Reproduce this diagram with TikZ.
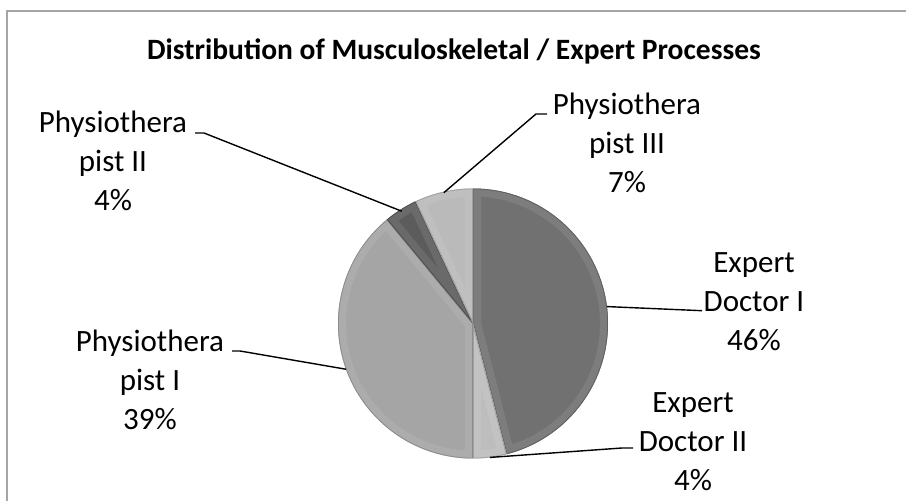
\documentclass[tikz,border=0pt]{standalone}
\usepackage{fontspec}
\setmainfont{Carlito}
\definecolor{edI}{HTML}{717171}
\definecolor{edII}{HTML}{BDBDBD}
\definecolor{phI}{HTML}{A5A5A5}
\definecolor{phII}{HTML}{5C5C5C}
\definecolor{phIII}{HTML}{BABABA}
\definecolor{framegray}{HTML}{A6A6A6}
\newcommand\mypieslice[3]{%
  \begin{scope}
    \clip (c) -- ([shift={(#1:135)}]c) arc[start angle=#1,end angle=#2,radius=135] -- cycle;
    \fill[#3] (c) circle[radius=137];
    \draw[line width=16, #3!75!white, opacity=.35] (c) -- ([shift={(#1:135)}]c) arc[start angle=#1,end angle=#2,radius=135] -- cycle;
    \draw[line width=1.6, #3!85!black] (c) -- ([shift={(#1:135)}]c) arc[start angle=#1,end angle=#2,radius=135] -- cycle;
  \end{scope}}
\newcommand\mylab[1]{\begin{tabular}[t]{@{}c@{}}#1\end{tabular}}
\tikzset{
  lbl/.style={anchor=base, inner sep=0pt, text=black, font=\fontsize{31}{38.8}\selectfont},
  ttl/.style={anchor=base, inner sep=0pt, text=black, font=\bfseries\fontsize{29.5}{35}\selectfont},
  leader/.style={draw=black, line width=1.4pt},
  frameline/.style={draw=framegray, line width=2pt}
}
\begin{document}
\begin{tikzpicture}[x=1pt,y=1pt]
\useasboundingbox (0,0) rectangle (906,501);
\fill[white] (0,0) rectangle (906,501);
\draw[frameline] (7,-2) -- (7,490) -- (908,490);
\node[ttl] (title) at (454,441) {Distribution of Musculoskeletal / Expert Processes};
\coordinate (c) at (473,177.5);
\mypieslice{90}{-75.6}{edI}
\mypieslice{-75.6}{-90}{edII}
\mypieslice{-90}{-230.4}{phI}
\mypieslice{-230.4}{-244.8}{phII}
\mypieslice{-244.8}{-270}{phIII}
% edge points
\coordinate (eEDI) at ([shift={(7.2:135)}]c);
\coordinate (eEDII) at ([shift={(-82.8:135)}]c);
\coordinate (ePI) at ([shift={(199.8:135)}]c);
\coordinate (ePII) at ([shift={(122.4:133)}]c);
\coordinate (ePIII) at ([shift={(102.6:134)}]c);
% labels
\node[lbl] (lPII) at (113,368) {\mylab{Physiothera\\pist II\\4\%}};
\node[lbl] (lPIII) at (627,386) {\mylab{Physiothera\\pist III\\7\%}};
\node[lbl] (lEDI) at (754,228.1) {\mylab{Expert\\Doctor I\\46\%}};
\node[lbl] (lEDII) at (693,88) {\mylab{Expert\\Doctor II\\4\%}};
\node[lbl] (lPI) at (150,149.3) {\mylab{Physiothera\\pist I\\39\%}};
% leader bends and ends
\coordinate (bPII) at (204,368);
\coordinate (tPII) at (195,368);
\coordinate (bPIII) at (536,387);
\coordinate (tPIII) at (547,387);
\coordinate (tEDI) at (702,190.3);
\coordinate (bEDII) at (622,53);
\coordinate (tEDII) at (633,53);
\coordinate (bPI) at (240,150);
\coordinate (tPI) at (232,150);
\draw[leader] (ePII) -- (bPII) -- (tPII);
\draw[leader] (ePIII) -- (bPIII) -- (tPIII);
\draw[leader] (eEDI) -- (tEDI);
\draw[leader] (eEDII) -- (bEDII) -- (tEDII);
\draw[leader] (ePI) -- (bPI) -- (tPI);
\end{tikzpicture}
\end{document}
